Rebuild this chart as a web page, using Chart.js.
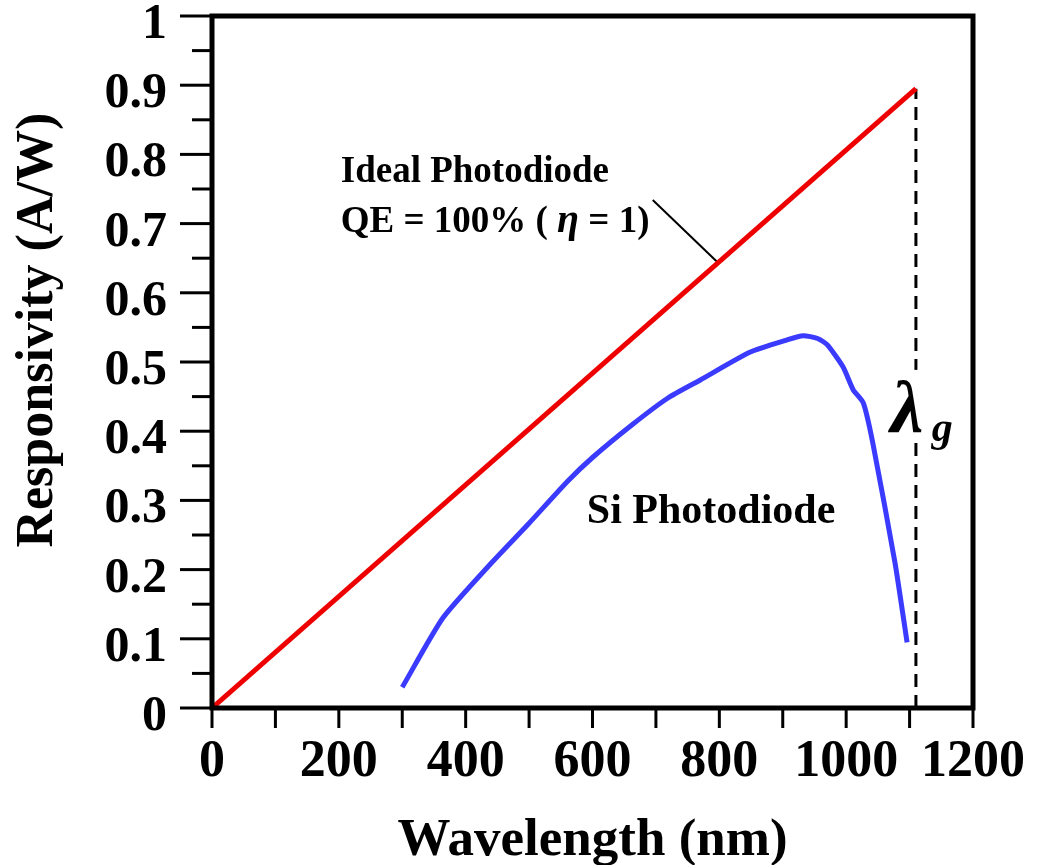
<!DOCTYPE html>
<html>
<head>
<meta charset="utf-8">
<script src="https://cdn.jsdelivr.net/npm/chart.js@4/dist/chart.umd.min.js"></script>
<style>
  html, body { margin: 0; padding: 0; background: #fff; }
  canvas { display: block; }
</style>
</head>
<body>
<canvas id="chart" width="1039" height="865"></canvas>
<script>
// ideal photodiode (QE = 100%), R = lambda / 1240
var idealWavelength = [0, 1110];
var idealResponsivity = [0, 0.895];

// Si photodiode curve
var siWavelength = [300, 364, 438, 500, 560, 600, 662, 719, 770, 848, 907, 932, 955, 970, 995, 1011, 1027, 1042, 1077, 1096];
var siResponsivity = [0.03, 0.13, 0.207, 0.267, 0.327, 0.362, 0.409, 0.448, 0.474, 0.514, 0.532, 0.538, 0.534, 0.525, 0.493, 0.46, 0.441, 0.383, 0.21, 0.095];

// cut-off wavelength marker and label pointer
var cutoffWavelength = [1110, 1110];
var cutoffResponsivity = [0, 0.895];
var pointerWavelength = [695, 798];
var pointerResponsivity = [0.734, 0.6435];

var xTicks = [0, 200, 400, 600, 800, 1000, 1200];
var yTicks = [0, 0.1, 0.2, 0.3, 0.4, 0.5, 0.6, 0.7, 0.8, 0.9, 1];

function pts(xs, ys) {
    return xs.map(function(x, i) { return { x: x, y: ys[i] }; });
}

var FONT = "'Liberation Serif', 'Times New Roman', serif";

var decor = {
    id: 'decor',
    afterDatasetsDraw: function(chart) {
        var ctx = chart.ctx;
        var a = chart.chartArea;
        var xs = chart.scales.x, ys = chart.scales.y;
        ctx.save();

        // tick marks
        ctx.strokeStyle = '#000';
        ctx.lineWidth = 3;
        ys.ticks.forEach(function(t) {
            var p = ys.getPixelForValue(t.value);
            var major = yTicks.some(function(v) { return Math.abs(v - t.value) < 1e-6; });
            ctx.beginPath();
            ctx.moveTo(major ? a.left - 32 : a.left - 20, p);
            ctx.lineTo(a.left, p);
            ctx.stroke();
        });
        xs.ticks.forEach(function(t) {
            var p = xs.getPixelForValue(t.value);
            ctx.beginPath();
            ctx.moveTo(p, a.bottom);
            ctx.lineTo(p, a.bottom + 20);
            ctx.stroke();
        });

        // frame
        ctx.lineWidth = 5;
        ctx.strokeRect(a.left, a.top, a.right - a.left, a.bottom - a.top);

        // y axis title
        ctx.fillStyle = '#000';
        ctx.save();
        ctx.translate(39, ys.getPixelForValue(0.546));
        ctx.rotate(-Math.PI / 2);
        ctx.textAlign = 'center';
        ctx.textBaseline = 'middle';
        ctx.font = 'bold 52px ' + FONT;
        ctx.fillText('Responsivity (A/W)', 0, 0);
        ctx.restore();

        // annotations
        ctx.textBaseline = 'alphabetic';
        ctx.textAlign = 'left';
        var lx = xs.getPixelForValue(203);
        ctx.font = 'bold 37px ' + FONT;
        ctx.fillText('Ideal Photodiode', lx, ys.getPixelForValue(0.76));
        var qy = ys.getPixelForValue(0.688);
        var s1 = 'QE = 100% ( ';
        ctx.fillText(s1, lx, qy);
        var w = ctx.measureText(s1).width;
        ctx.font = 'bold italic 40px ' + FONT;
        ctx.fillText('\u03b7', lx + w, qy);
        w += ctx.measureText('\u03b7').width;
        ctx.font = 'bold 37px ' + FONT;
        ctx.fillText(' = 1)', lx + w, qy);

        ctx.font = 'bold 42px ' + FONT;
        ctx.fillText('Si Photodiode', xs.getPixelForValue(591), ys.getPixelForValue(0.267));

        // lambda_g over the dashed line
        var gx = xs.getPixelForValue(1070), gy = ys.getPixelForValue(0.399);
        ctx.fillStyle = '#fff';
        ctx.fillRect(gx + 4, gy - 62, 40, 70);
        ctx.fillStyle = '#000';
        ctx.font = 'bold italic 74px ' + FONT;
        ctx.fillText('\u03bb', gx, gy);
        ctx.font = 'bold italic 42px ' + FONT;
        ctx.fillText('g', xs.getPixelForValue(1135), ys.getPixelForValue(0.386));

        ctx.restore();
    }
};

new Chart(document.getElementById('chart'), {
    type: 'line',
    data: {
        datasets: [
            { data: pts(idealWavelength, idealResponsivity), borderColor: '#ee0000', borderWidth: 5, pointRadius: 0, tension: 0 },
            { data: pts(siWavelength, siResponsivity), borderColor: '#3b3bff', borderWidth: 5, pointRadius: 0, tension: 0.2 },
            { data: pts(cutoffWavelength, cutoffResponsivity), borderColor: '#000', borderWidth: 3, borderDash: [13, 8], pointRadius: 0 },
            { data: pts(pointerWavelength, pointerResponsivity), borderColor: '#000', borderWidth: 2, pointRadius: 0 }
        ]
    },
    options: {
        responsive: false,
        animation: false,
        layout: { padding: { top: 16, right: 66, left: 0, bottom: 0 } },
        plugins: { legend: { display: false }, tooltip: { enabled: false } },
        scales: {
            x: {
                type: 'linear',
                min: 0, max: 1200,
                grid: { display: false, drawTicks: false },
                border: { display: false },
                afterFit: function(s) {
                    s.height = 157;
                    s.paddingLeft = 0; s.paddingRight = 0;
                },
                ticks: {
                    stepSize: 100, autoSkip: false, maxRotation: 0, padding: 23,
                    color: '#000',
                    font: { family: FONT, size: 52, weight: 'bold', lineHeight: 1.2 },
                    callback: function(v) { return xTicks.indexOf(v) >= 0 ? String(v) : ''; }
                },
                title: {
                    display: true, text: 'Wavelength (nm)', color: '#000',
                    font: { family: FONT, size: 53, weight: 'bold', lineHeight: 1 },
                    padding: { top: 0, bottom: -3 }
                }
            },
            y: {
                type: 'linear',
                min: 0, max: 1,
                grid: { display: false, drawTicks: false },
                border: { display: false },
                afterFit: function(s) {
                    s.width = 212;
                    s.paddingTop = 0; s.paddingBottom = 0;
                },
                ticks: {
                    stepSize: 0.05, autoSkip: false, padding: 45, labelOffset: 9,
                    color: '#000',
                    font: { family: FONT, size: 50, weight: 'bold' },
                    callback: function(v) {
                        var r = Math.round(v * 10) / 10;
                        return Math.abs(r - v) < 1e-6 ? String(r) : '';
                    }
                }
            }
        }
    },
    plugins: [decor]
});
</script>
</body>
</html>
